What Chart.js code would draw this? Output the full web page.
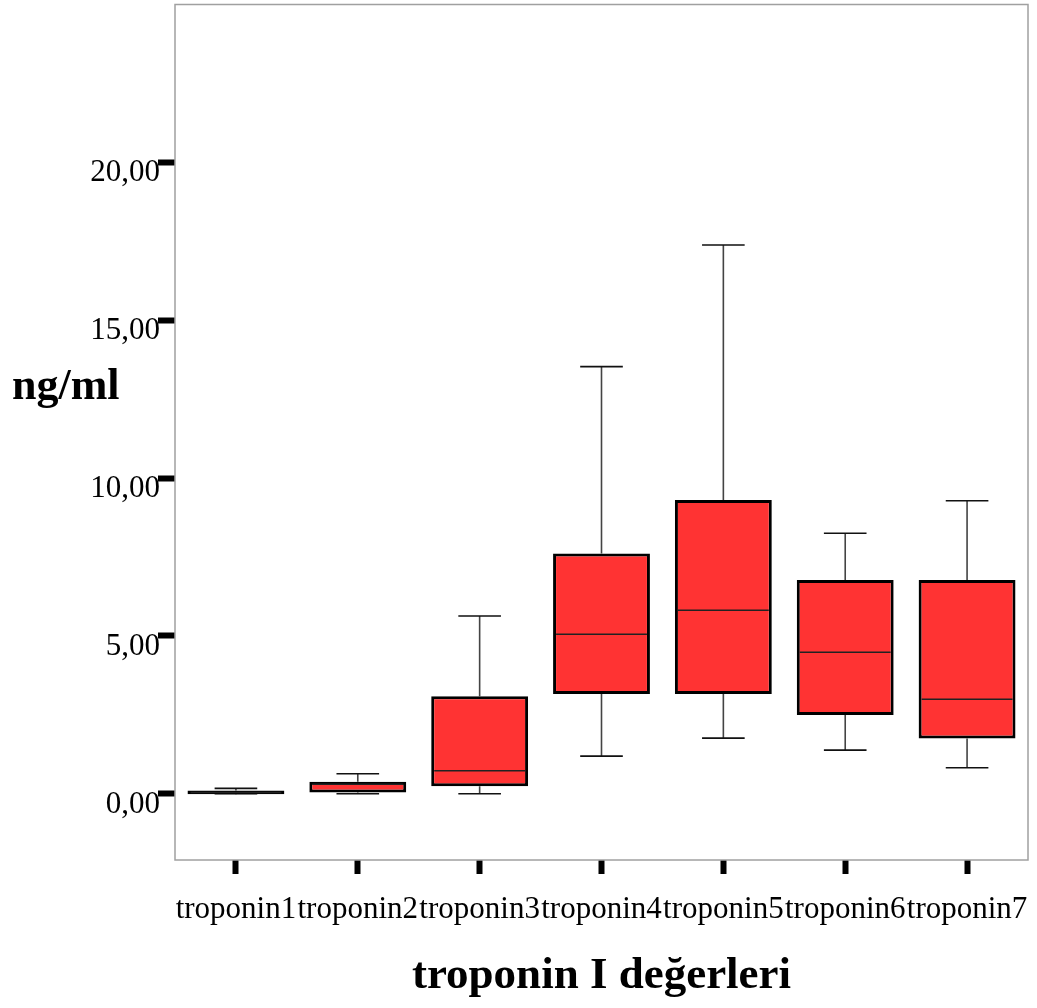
<!DOCTYPE html>
<html lang="tr">
<head>
  <meta charset="UTF-8" />
  <title>troponin I değerleri</title>
  <script src="https://cdn.jsdelivr.net/npm/chart.js"></script>
  <style>
    body {
      margin: 0;
      background-color: white;
    }
    .chart-container {
      width: 1037px;
      height: 1008px;
      position: relative;
    }
  </style>
</head>
<body>
  <div class="chart-container">
    <canvas id="boxChart"></canvas>
  </div>

  <script>
    // === Data ===
    const categories = ['troponin1', 'troponin2', 'troponin3', 'troponin4', 'troponin5', 'troponin6', 'troponin7'];
    const minValues    = [0.00, 0.00, 0.00, 1.19, 1.76, 1.38, 0.82];
    const q1Values     = [-0.02, 0.04, 0.24, 3.16, 3.16, 2.49, 1.75];
    const medianValues = [0.04, 0.30, 0.73, 5.05, 5.81, 4.48, 2.99];
    const q3Values     = [0.10, 0.38, 3.09, 7.61, 9.30, 6.77, 6.77];
    const maxValues    = [0.17, 0.63, 5.63, 13.53, 17.38, 8.25, 9.28];
    const yTickValues  = [0, 5, 10, 15, 20];
    const yTickLabels  = ['0,00', '5,00', '10,00', '15,00', '20,00'];

    const serif = '"Liberation Serif", "Times New Roman", serif';

    // whiskers, caps and medians drawn through the chart's scales
    const boxPlotLines = {
      id: 'boxPlotLines',
      beforeDatasetsDraw(chart) {
        const { ctx, chartArea } = chart;
        const y = chart.scales.y;
        const meta = chart.getDatasetMeta(0);
        ctx.save();
        // plot frame
        ctx.strokeStyle = '#a0a0a0';
        ctx.lineWidth = 1.5;
        ctx.strokeRect(chartArea.left, chartArea.top, chartArea.right - chartArea.left, chartArea.bottom - chartArea.top);

        meta.data.forEach((bar, i) => {
          const x = bar.x;
          const capHalf = bar.width * 0.22;
          const yMin = y.getPixelForValue(minValues[i]);
          const yMax = y.getPixelForValue(maxValues[i]);
          const yQ1 = y.getPixelForValue(q1Values[i]);
          const yQ3 = y.getPixelForValue(q3Values[i]);

          ctx.strokeStyle = '#444';
          ctx.lineWidth = 1.6;
          ctx.beginPath();
          ctx.moveTo(x, yQ3);
          ctx.lineTo(x, yMax);
          ctx.moveTo(x, yQ1);
          ctx.lineTo(x, yMin);
          ctx.stroke();

          ctx.strokeStyle = '#111';
          ctx.beginPath();
          ctx.moveTo(x - capHalf, yMax);
          ctx.lineTo(x + capHalf, yMax);
          ctx.moveTo(x - capHalf, yMin);
          ctx.lineTo(x + capHalf, yMin);
          ctx.stroke();
        });
        ctx.restore();
      },
      afterDatasetsDraw(chart) {
        const { ctx } = chart;
        const y = chart.scales.y;
        const meta = chart.getDatasetMeta(0);
        ctx.save();
        ctx.strokeStyle = '#222';
        ctx.lineWidth = 1.5;
        meta.data.forEach((bar, i) => {
          const half = bar.width / 2 - 3;
          const yMed = y.getPixelForValue(medianValues[i]);
          ctx.beginPath();
          ctx.moveTo(bar.x - half, yMed);
          ctx.lineTo(bar.x + half, yMed);
          ctx.stroke();
        });
        ctx.restore();
      },
      afterDraw(chart) {
        const { ctx } = chart;
        ctx.save();
        ctx.fillStyle = 'black';
        ctx.font = 'bold 44px ' + serif;
        ctx.textAlign = 'left';
        ctx.textBaseline = 'alphabetic';
        ctx.fillText('ng/ml', 12, 399);
        ctx.restore();
      }
    };

    new Chart(document.getElementById('boxChart'), {
      type: 'bar',
      data: {
        labels: categories,
        datasets: [{
          label: 'troponin I',
          data: q1Values.map((q1, i) => [q1, q3Values[i]]),
          backgroundColor: '#ff3333',
          borderColor: 'black',
          borderWidth: 3,
          borderSkipped: false,
          categoryPercentage: 1,
          barPercentage: 0.795
        }]
      },
      options: {
        responsive: true,
        maintainAspectRatio: false,
        animation: false,
        layout: { padding: { top: 4.5, right: 9, left: 0, bottom: 0 } },
        plugins: {
          legend: { display: false },
          tooltip: { enabled: false }
        },
        scales: {
          x: {
            offset: true,
            grid: {
              offset: false,
              drawOnChartArea: false,
              tickLength: 14,
              tickWidth: 6,
              tickColor: 'black'
            },
            border: { display: false },
            ticks: {
              color: 'black',
              padding: 17,
              maxRotation: 0,
              autoSkip: false,
              font: { family: serif, size: 31 }
            },
            title: {
              display: true,
              text: 'troponin I değerleri',
              color: 'black',
              font: { family: serif, size: 45, weight: 'bold' },
              padding: { top: 0, bottom: 5 }
            },
            afterFit(scale) {
              scale.height = 148;
              scale.paddingLeft = 0;
              scale.paddingRight = 0;
            }
          },
          y: {
            min: -2.1,
            max: 25,
            grid: {
              drawOnChartArea: false,
              tickLength: 17,
              tickWidth: 6,
              tickColor: 'black'
            },
            border: { display: false },
            ticks: {
              color: 'black',
              padding: -2,
              labelOffset: 11,
              font: { family: serif, size: 31 },
              callback: (value) => yTickLabels[yTickValues.indexOf(value)]
            },
            afterBuildTicks(scale) {
              scale.ticks = yTickValues.map(v => ({ value: v }));
            },
            afterFit(scale) {
              scale.width = 175;
              scale.paddingTop = 0;
              scale.paddingBottom = 0;
            }
          }
        }
      },
      plugins: [boxPlotLines]
    });
  </script>
</body>
</html>
